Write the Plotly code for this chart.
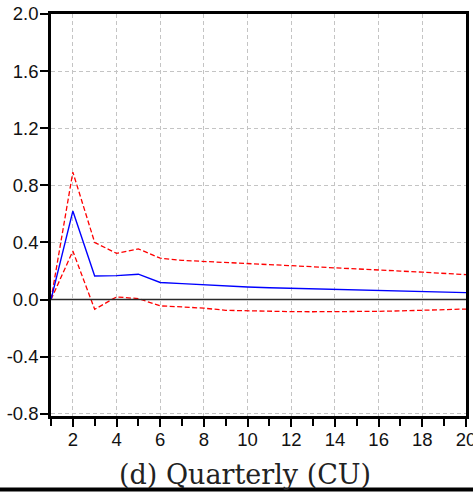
import plotly.graph_objects as go

periods = list(range(1, 21))
response = [0.0, 0.62, 0.165, 0.168, 0.178, 0.12, 0.112, 0.103, 0.094, 0.088,
            0.083, 0.079, 0.075, 0.071, 0.067, 0.063, 0.059, 0.056, 0.052, 0.049]
upper = [0.0, 0.893, 0.40, 0.324, 0.355, 0.29, 0.275, 0.268, 0.257, 0.249,
         0.243, 0.237, 0.23, 0.224, 0.216, 0.208, 0.2, 0.192, 0.184, 0.175]
lower = [0.0, 0.34, -0.068, 0.019, 0.007, -0.044, -0.051, -0.06, -0.075, -0.079,
         -0.082, -0.084, -0.085, -0.085, -0.084, -0.082, -0.079, -0.075, -0.071, -0.066]
x_ticks = [2, 4, 6, 8, 10, 12, 14, 16, 18, 20]
y_ticks = [-0.8, -0.4, 0.0, 0.4, 0.8, 1.2, 1.6, 2.0]
y_tick_text = ["-0.8", "-0.4", "0.0", "0.4", "0.8", "1.2", "1.6", "2.0"]
caption = "(d) Quarterly (CU)"

fig = go.Figure()
fig.add_trace(go.Scatter(x=periods, y=upper, mode="lines",
                         line=dict(color="#ff0000", width=1.3, dash="5px,2.5px"), showlegend=False))
fig.add_trace(go.Scatter(x=periods, y=lower, mode="lines",
                         line=dict(color="#ff0000", width=1.3, dash="5px,2.5px"), showlegend=False))
fig.add_trace(go.Scatter(x=periods, y=response, mode="lines",
                         line=dict(color="#0000ff", width=1.4), showlegend=False))

fig.add_hline(y=0, line=dict(color="#2a2a2a", width=1.5))

tick_font = dict(family="Liberation Sans, Arial", size=18.5, color="#111111")

fig.update_xaxes(range=[1, 20], tickmode="array", tickvals=x_ticks,
                 ticks="outside", ticklen=8, tickwidth=1.5, tickcolor="black",
                 minor=dict(ticks="outside", ticklen=7, tickwidth=1.5, tickcolor="black",
                            dtick=1, tick0=1, showgrid=False),
                 showline=True, linecolor="black", linewidth=2.5, mirror=True,
                 showgrid=True, gridcolor="#c4c4c4", griddash="4px,3px", gridwidth=1,
                 zeroline=False, tickfont=tick_font, automargin=False,
                 ticklabeloverflow="allow", ticklabelstandoff=-3)
fig.update_yaxes(range=[-0.815, 2.0], tickmode="array", tickvals=y_ticks, ticktext=y_tick_text,
                 ticks="outside", ticklen=8, tickwidth=1.5, tickcolor="black",
                 showline=True, linecolor="black", linewidth=2.5, mirror=True,
                 showgrid=True, gridcolor="#c4c4c4", griddash="4px,3px", gridwidth=1,
                 zeroline=False, tickfont=tick_font, automargin=False,
                 ticklabeloverflow="allow", ticklabelstandoff=-2)

fig.add_annotation(text=caption, xref="paper", yref="paper", x=0.467, y=-0.145,
                   xanchor="center", yanchor="middle", showarrow=False,
                   font=dict(family="DejaVu Serif, Liberation Serif, serif", size=27, color="#222222"))
fig.add_shape(type="line", xref="paper", yref="paper", x0=-0.2, x1=1.1, y0=-0.183, y1=-0.183,
              line=dict(color="black", width=4))

fig.update_layout(width=473, height=494, margin=dict(l=51, r=7, t=14, b=78),
                  paper_bgcolor="white", plot_bgcolor="white")

fig.write_html("out.html", config={"displayModeBar": False},
               post_script="document.body.style.margin='0';")
